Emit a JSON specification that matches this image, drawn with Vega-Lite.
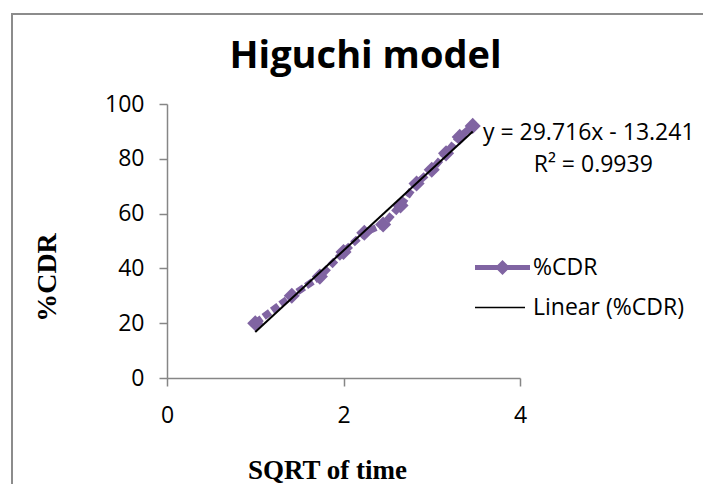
{
  "$schema": "https://vega.github.io/schema/vega-lite/v6.json",
  "width": 693,
  "height": 472,
  "autosize": {"type": "none"},
  "padding": {"left": 12, "top": 14, "right": -2, "bottom": -2},
  "background": "white",
  "view": {"stroke": "#8c8c8c", "strokeWidth": 2},
  "title": {
    "text": "Higuchi model",
    "font": "Open Sans",
    "fontSize": 38,
    "fontWeight": "bold",
    "color": "black",
    "anchor": "middle",
    "frame": "group",
    "baseline": "alphabetic",
    "offset": 0,
    "dx": 7,
    "dy": 92
  },
  "datasets": {
    "release": [
      {"sqrt_time": 1.0, "cdr": 20},
      {"sqrt_time": 1.414, "cdr": 30},
      {"sqrt_time": 1.732, "cdr": 37},
      {"sqrt_time": 2.0, "cdr": 46},
      {"sqrt_time": 2.236, "cdr": 53},
      {"sqrt_time": 2.449, "cdr": 56},
      {"sqrt_time": 2.646, "cdr": 63},
      {"sqrt_time": 2.828, "cdr": 71},
      {"sqrt_time": 3.0, "cdr": 76},
      {"sqrt_time": 3.162, "cdr": 82},
      {"sqrt_time": 3.317, "cdr": 88},
      {"sqrt_time": 3.464, "cdr": 92}
    ]
  },
  "layer": [
    {
      "data": {"name": "release"},
      "mark": {"type": "line", "strokeWidth": 7, "strokeDash": [8, 2.5], "clip": false},
      "encoding": {
        "x": {
          "field": "sqrt_time", "type": "quantitative",
          "scale": {"domain": [0, 4], "range": [155, 508], "nice": false, "zero": false},
          "axis": {
            "values": [0, 2, 4],
            "format": "d",
            "offset": -108,
            "grid": false,
            "labelFlush": false,
            "labelOverlap": false,
            "domainColor": "#868686",
            "domainWidth": 1.5,
            "tickColor": "#868686",
            "tickWidth": 1.5,
            "tickSize": 8,
            "labelFont": "Open Sans",
            "labelFontSize": 23,
            "labelColor": "black",
            "labelPadding": 18,
            "title": "SQRT of time",
            "titleFont": "Liberation Serif",
            "titleFontSize": 27,
            "titleFontWeight": "bold",
            "titleColor": "black",
            "titleX": 315,
            "titleY": 100,
            "titleBaseline": "alphabetic",
            "titleAlign": "center"
          }
        },
        "y": {
          "field": "cdr", "type": "quantitative",
          "scale": {"domain": [0, 100], "range": [364, 90], "nice": false, "zero": false},
          "axis": {
            "values": [0, 20, 40, 60, 80, 100],
            "format": "d",
            "offset": -155,
            "grid": false,
            "labelFlush": false,
            "labelOverlap": false,
            "domainColor": "#868686",
            "domainWidth": 1.5,
            "tickColor": "#868686",
            "tickWidth": 1.5,
            "tickSize": 8,
            "labelFont": "Open Sans",
            "labelFontSize": 23,
            "labelColor": "black",
            "labelPadding": 15,
            "title": "%CDR",
            "titleFont": "Liberation Serif",
            "titleFontSize": 28,
            "titleFontWeight": "bold",
            "titleColor": "black",
            "titleAngle": -90,
            "titleX": -120,
            "titleY": 263,
            "titleBaseline": "middle",
            "titleAlign": "center"
          }
        },
        "color": {
          "datum": "%CDR",
          "type": "nominal",
          "scale": {"domain": ["%CDR", "Linear (%CDR)"], "range": ["#8064A2", "#000000"]},
          "legend": {
            "title": null,
            "orient": "none",
            "legendX": 479,
            "legendY": 242,
            "padding": 0,
            "symbolSize": 400,
            "labelFont": "Open Sans",
            "labelFontSize": 23,
            "labelColor": "black",
            "labelOffset": 19,
            "rowPadding": 16,
            "encode": {
              "symbols": {
                "update": {
                  "shape": {"signal": "datum.value === '%CDR' ? 'M-2.75,-0.25L2.75,-0.25L2.75,0.25L-2.75,0.25Z M0,-0.75L0.75,0L0,0.75L-0.75,0Z' : 'M-2.75,-0.08L2.25,-0.08L2.25,0.08L-2.75,0.08Z'"},
                  "fill": {"signal": "datum.value === '%CDR' ? '#8064A2' : '#000000'"},
                  "fillOpacity": {"value": 1},
                  "opacity": {"value": 1},
                  "stroke": {"value": "transparent"},
                  "strokeWidth": {"value": 0},
                  "size": {"value": 400}
                }
              }
            }
          }
        }
      }
    },
    {
      "data": {"name": "release"},
      "mark": {"type": "point", "shape": "diamond", "filled": true, "size": 260, "opacity": 1, "clip": false},
      "encoding": {
        "x": {"field": "sqrt_time", "type": "quantitative"},
        "y": {"field": "cdr", "type": "quantitative"},
        "color": {"datum": "%CDR", "type": "nominal"}
      }
    },
    {
      "data": {"name": "release"},
      "transform": [{"regression": "cdr", "on": "sqrt_time", "method": "linear"}],
      "mark": {"type": "line", "strokeWidth": 2, "clip": false},
      "encoding": {
        "x": {"field": "sqrt_time", "type": "quantitative"},
        "y": {"field": "cdr", "type": "quantitative"},
        "color": {"datum": "Linear (%CDR)", "type": "nominal"}
      }
    },
    {
      "data": {"values": [{"label": "y = 29.716x - 13.241"}]},
      "mark": {"type": "text", "align": "left", "baseline": "middle", "font": "Open Sans", "fontSize": 23, "color": "black", "clip": false},
      "encoding": {
        "x": {"datum": 3.58, "type": "quantitative"},
        "y": {"datum": 89.4, "type": "quantitative"},
        "text": {"field": "label"}
      }
    },
    {
      "data": {"values": [{"label": "R² = 0.9939"}]},
      "mark": {"type": "text", "align": "center", "baseline": "middle", "font": "Open Sans", "fontSize": 23, "color": "black", "clip": false},
      "encoding": {
        "x": {"datum": 4.83, "type": "quantitative"},
        "y": {"datum": 77.7, "type": "quantitative"},
        "text": {"field": "label"}
      }
    }
  ]
}
